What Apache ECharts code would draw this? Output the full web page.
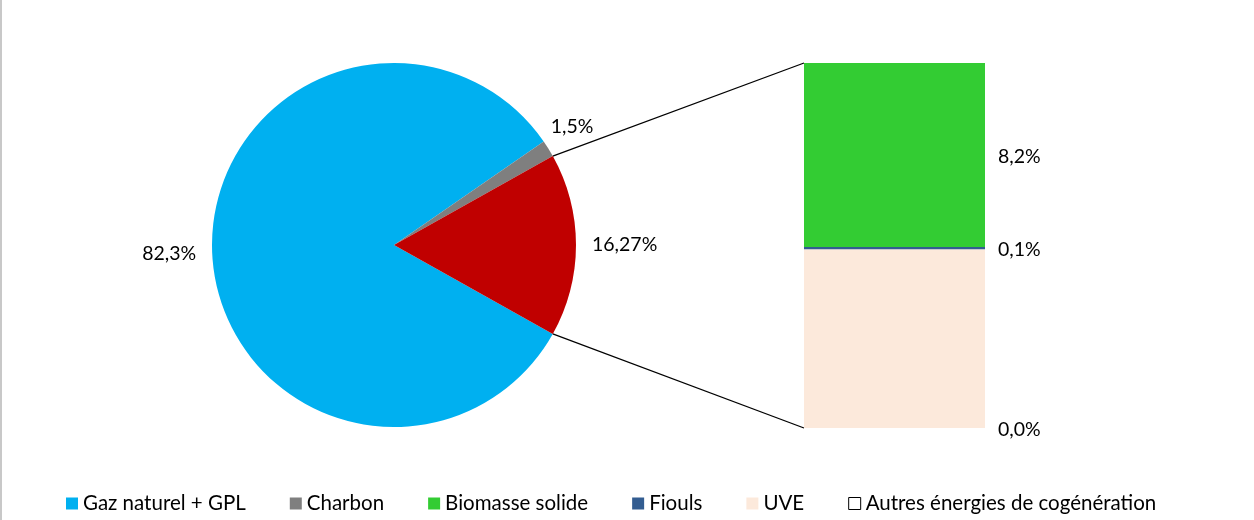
<!DOCTYPE html>
<html>
<head>
<meta charset="utf-8">
<script src="https://cdn.jsdelivr.net/npm/echarts@6/dist/echarts.min.js"></script>
<style>
  html, body { margin: 0; padding: 0; background: #fff; }
  #chart { width: 1254px; height: 520px; }
  #edge { position: absolute; left: 0; top: 0; width: 2px; height: 520px; background: #c8c8c8; }
</style>
</head>
<body>
<div id="chart"></div>
<div id="edge"></div>
<script>
// camembert principal
var pieNames = ['Gaz naturel + GPL', 'Charbon', 'Autres'];
var pieValues = [82.3, 1.5, 16.27];
var pieColors = ['#00B0F0', '#7F7F7F', '#C00000'];

// barre de détail (de bas en haut)
var barNames = ['Autres énergies de cogénération', 'UVE', 'Fiouls', 'Biomasse solide'];
var barValues = [0, 7.97, 0.1, 8.2];
var barColors = ['#FFFFFF', '#FCE9DB', '#335D91', '#33CC33'];
var barShowLabel = [true, false, true, true];

var legendNames = ['Gaz naturel + GPL', 'Charbon', 'Biomasse solide', 'Fiouls', 'UVE', 'Autres énergies de cogénération'];

var fmt = function (v) {
    var s = (v % 1 === 0) ? v.toFixed(1) : String(v);
    return s.replace('.', ',') + '%';
};

var pieCenter = [394, 245];
var pieRadius = 182;
var gridLeft = 804, gridTop = 63, gridW = 181, gridH = 365;

var pieTotal = pieValues.reduce(function (a, b) { return a + b; }, 0);
var redDeg = pieValues[2] / pieTotal * 360;
var startAngle = -redDeg / 2;
var barTotal = barValues.reduce(function (a, b) { return a + b; }, 0);

var myChart = echarts.init(document.getElementById('chart'));

var series = [{
    type: 'pie',
    center: pieCenter,
    radius: pieRadius,
    startAngle: startAngle,
    clockwise: true,
    silent: true,
    data: pieNames.map(function (n, i) {
        var d = { name: n, value: pieValues[i], itemStyle: { color: pieColors[i] } };
        if (n === 'Charbon') {
            d.label = { offset: [-12, -16] };
        }
        return d;
    }),
    label: {
        show: true,
        position: 'outside',
        formatter: function (p) { return fmt(p.value); },
        fontFamily: 'Lato',
        fontSize: 19.5,
        color: '#000'
    },
    labelLine: { show: false, length: 11, length2: 0 }
}];

barNames.forEach(function (n, i) {
    series.push({
        name: n,
        type: 'bar',
        stack: 'detail',
        barWidth: '100%',
        silent: true,
        data: [barValues[i]],
        itemStyle: { color: barColors[i] },
        label: {
            show: barShowLabel[i],
            position: 'right',
            distance: 13,
            offset: [0, 2],
            formatter: function (p) { return fmt(p.value); },
            fontFamily: 'Lato',
            fontSize: 19.5,
            color: '#000'
        }
    });
});

var option = {
    animation: false,
    grid: { left: gridLeft, top: gridTop, width: gridW, height: gridH },
    xAxis: { type: 'category', data: [''], show: false, boundaryGap: true },
    yAxis: { type: 'value', min: 0, max: barTotal, show: false },
    legend: {
        left: 61,
        bottom: 1,
        itemWidth: 12,
        itemHeight: 12,
        itemGap: 44,
        icon: 'rect',
        textStyle: { fontFamily: 'Lato', fontSize: 20.5, color: '#000' },
        data: legendNames.map(function (n) {
            if (n === 'Autres énergies de cogénération') {
                return { name: n, itemStyle: { color: '#fff', borderColor: '#000', borderWidth: 1 } };
            }
            return { name: n };
        }),
        selectedMode: false
    },
    series: series
};
myChart.setOption(option);

// lignes de liaison entre le camembert et la barre
var a1 = startAngle * Math.PI / 180;
var a2 = (startAngle + redDeg) * Math.PI / 180;
var pTop = [pieCenter[0] + pieRadius * Math.cos(a2), pieCenter[1] - pieRadius * Math.sin(a2)];
var pBot = [pieCenter[0] + pieRadius * Math.cos(a1), pieCenter[1] - pieRadius * Math.sin(a1)];
var yTop = myChart.convertToPixel({ yAxisIndex: 0 }, barTotal);
var yBot = myChart.convertToPixel({ yAxisIndex: 0 }, 0);

myChart.setOption({
    graphic: [
        { type: 'line', shape: { x1: pTop[0], y1: pTop[1], x2: gridLeft, y2: yTop }, style: { stroke: '#000', lineWidth: 1.3 }, silent: true },
        { type: 'line', shape: { x1: pBot[0], y1: pBot[1], x2: gridLeft, y2: yBot }, style: { stroke: '#000', lineWidth: 1.3 }, silent: true }
    ]
});
</script>
</body>
</html>
